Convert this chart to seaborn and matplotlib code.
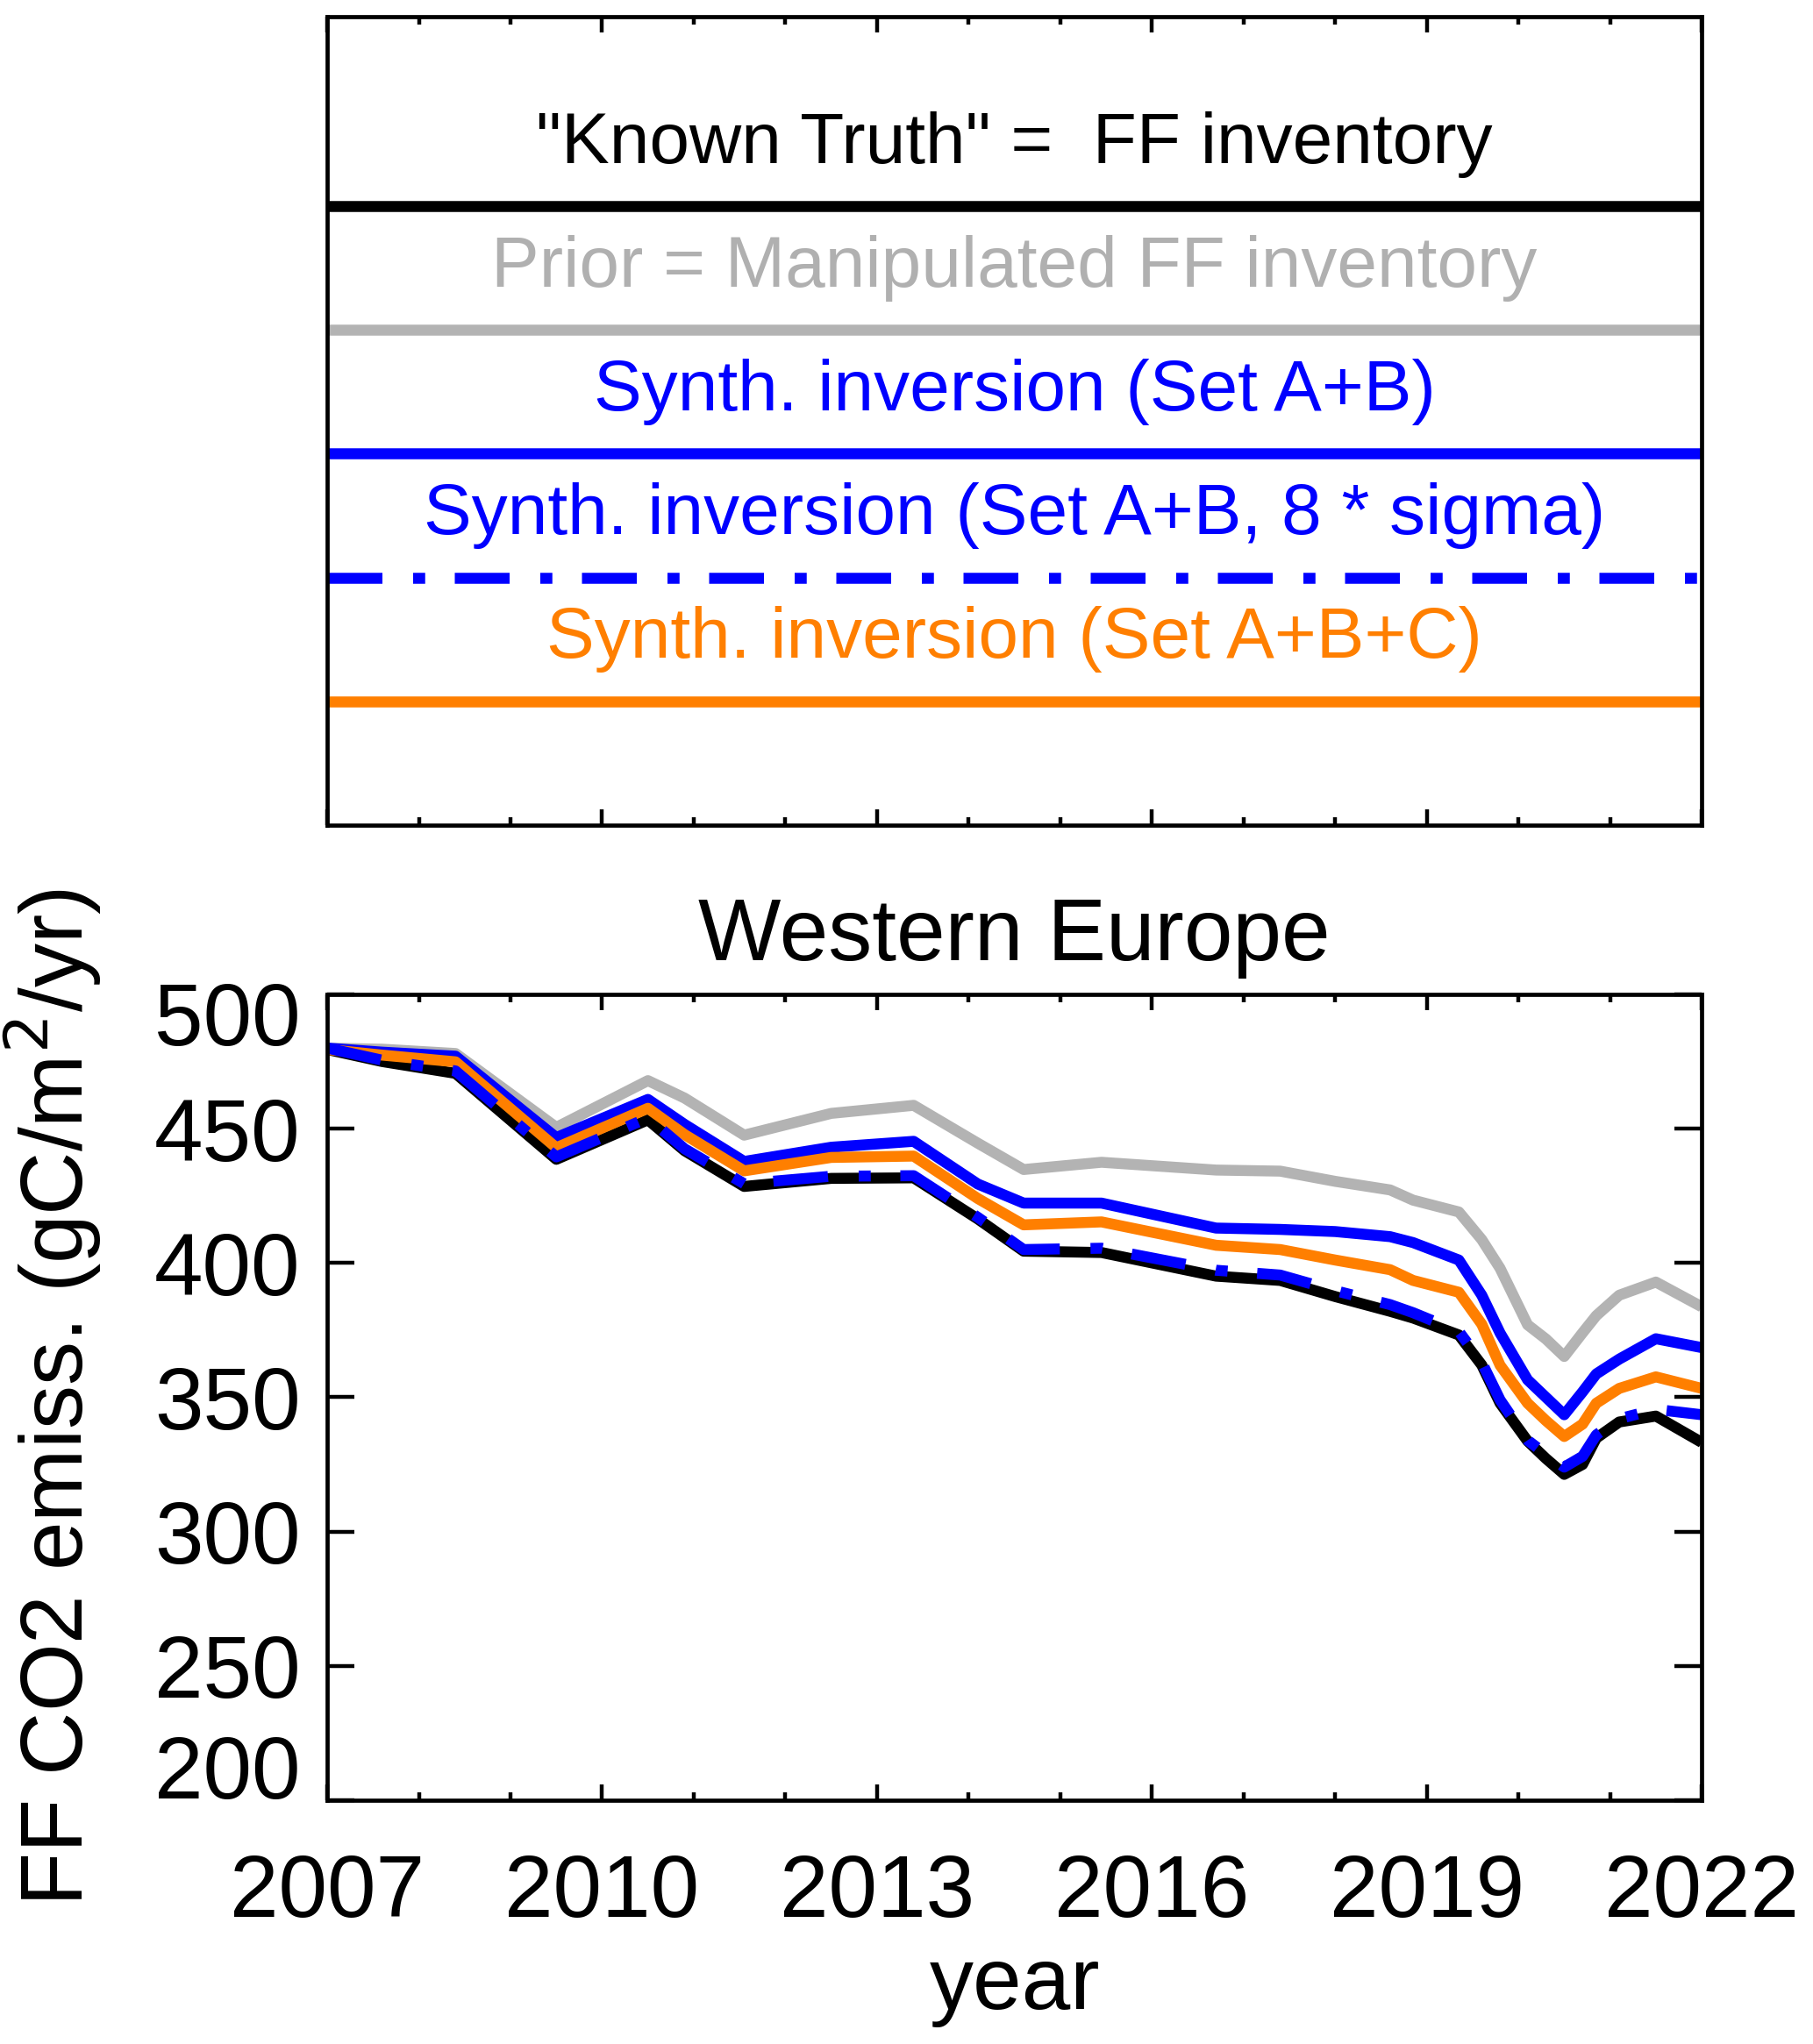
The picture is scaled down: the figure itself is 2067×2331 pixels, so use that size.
import numpy as np
import pandas as pd
import matplotlib
matplotlib.use('Agg')
import matplotlib.pyplot as plt
import matplotlib.transforms as mtransforms
from matplotlib.ticker import MultipleLocator, NullLocator
import seaborn as sns

# values (gC/m2/yr)
years = [2007.0, 2007.6, 2008.4, 2009.5, 2010.5, 2010.9, 2011.55, 2012.5, 2013.4, 2014.1,
         2014.6, 2015.45, 2016.7, 2017.4, 2018.0, 2018.6, 2018.85, 2019.35, 2019.6, 2019.8,
         2020.1, 2020.3, 2020.5, 2020.7, 2020.85, 2021.1, 2021.5, 2022.0]
truth = [479.5, 475.0, 470.6, 438.6, 453.3, 441.8, 428.5, 431.5, 431.7, 416.4,
         404.4, 403.9, 395.1, 393.5, 387.5, 382.0, 379.5, 373.2, 362.0, 347.8,
         333.7, 327.2, 321.3, 325.0, 334.8, 340.8, 343.0, 333.2]
prior = [480.0, 479.6, 478.0, 450.5, 467.9, 461.4, 447.6, 455.7, 458.7, 444.6,
         434.8, 437.5, 434.6, 434.2, 430.4, 427.2, 423.4, 419.0, 408.7, 398.0,
         377.0, 371.7, 365.2, 374.0, 380.4, 388.0, 392.9, 383.7]
inv_ab = [480.0, 478.5, 477.0, 446.7, 460.9, 451.6, 437.8, 443.1, 445.3, 429.4,
          422.3, 422.3, 413.0, 412.5, 411.7, 409.8, 407.6, 401.1, 388.0, 373.9,
          356.5, 350.0, 343.5, 352.0, 358.7, 364.2, 371.8, 368.5]
inv_ab_8sigma = [480.0, 475.5, 471.5, 439.5, 454.0, 442.5, 429.5, 432.3, 432.5, 417.0,
                 405.0, 405.5, 397.3, 395.5, 389.7, 384.5, 381.5, 374.5, 363.0, 349.0,
                 334.0, 328.8, 324.0, 328.0, 336.0, 342.0, 345.5, 343.5]
inv_abc = [479.5, 477.4, 474.9, 442.9, 457.6, 447.8, 434.3, 439.3, 439.8, 424.0,
           414.2, 415.3, 406.6, 405.0, 401.1, 397.5, 393.5, 389.1, 377.2, 361.9,
           347.8, 341.3, 335.4, 340.0, 347.8, 353.3, 357.6, 353.3]

labels = ['"Known Truth" =  FF inventory',
          'Prior = Manipulated FF inventory',
          'Synth. inversion (Set A+B)',
          'Synth. inversion (Set A+B, 8 * sigma)',
          'Synth. inversion (Set A+B+C)']
series = [truth, prior, inv_ab, inv_ab_8sigma, inv_abc]
line_colors = ['black', '#b3b3b3', '#0000ff', '#0000ff', '#ff7f00']
text_colors = ['black', '#b0b0b0', '#0000ff', '#0000ff', '#ff7f00']
dash_dot = (0, (5.0, 2.8, 1.1, 2.7))
styles = ['-', '-', '-', dash_dot, '-']
draw_order = [1, 0, 2, 4, 3]

year_ticks = list(range(2007, 2023, 3))
y_ticks = [200, 250, 300, 350, 400, 450, 500]

sns.set_theme(style='ticks')
plt.rcParams['font.family'] = ['Liberation Sans', 'DejaVu Sans']
plt.rcParams['axes.edgecolor'] = 'black'
plt.rcParams['axes.labelcolor'] = 'black'
plt.rcParams['text.color'] = 'black'
plt.rcParams['xtick.color'] = 'black'
plt.rcParams['ytick.color'] = 'black'

lw = 9.0
fig = plt.figure(figsize=(20.67, 23.31), dpi=100)
ax_leg = fig.add_axes([0.1805, 0.5963, 0.7581, 0.3955])
ax = fig.add_axes([0.1805, 0.1193, 0.7581, 0.3942])

# legend panel
n = len(labels)
trans = mtransforms.blended_transform_factory(ax_leg.transAxes, ax_leg.transData)
for i, lab in enumerate(labels):
    level = n - i
    ax_leg.axhline(level, color=line_colors[i], linewidth=lw, linestyle=styles[i],
                   solid_capstyle='butt')
    ax_leg.text(0.5, level + 0.5, lab, color=text_colors[i], fontsize=59,
                ha='center', va='center', transform=trans)
ax_leg.set_xlim(2007, 2022)
ax_leg.set_ylim(0, n + 1.53)
ax_leg.set_yticks([])
ax_leg.set_xticks(year_ticks)
ax_leg.xaxis.set_minor_locator(MultipleLocator(1))
ax_leg.tick_params(axis='x', which='major', direction='in', length=13, width=3.2,
                   top=True, bottom=True, labelbottom=False)
ax_leg.tick_params(axis='x', which='minor', direction='in', length=6.5, width=3.2,
                   top=True, bottom=True)

# time series panel
for i in draw_order:
    sns.lineplot(x=years, y=series[i], color=line_colors[i], linewidth=lw,
                 linestyle=styles[i], solid_capstyle='butt', solid_joinstyle='round',
                 dash_joinstyle='round', ax=ax)
ax.set_xlim(2007, 2022)
ax.set_ylim(200, 500)
ax.set_xticks(year_ticks)
ax.set_yticks(y_ticks)
ax.xaxis.set_minor_locator(MultipleLocator(1))
ax.yaxis.set_minor_locator(NullLocator())
ax.tick_params(axis='x', which='major', direction='in', length=13, width=3.2,
               top=True, bottom=True, labelsize=72, pad=43)
ax.tick_params(axis='x', which='minor', direction='in', length=6.5, width=3.2,
               top=True, bottom=True)
ax.tick_params(axis='y', which='major', direction='in', length=22, width=3.2,
               left=True, right=True, labelsize=72, pad=22)
# end labels sit inside the axis range, as in the original
yt = ax.yaxis.get_major_ticks()
yt[0].label1.set_va('bottom')
yt[0].label1.set_transform(yt[0].label1.get_transform() +
                           mtransforms.ScaledTranslation(0, -14 / 72, fig.dpi_scale_trans))
yt[-1].label1.set_va('top')
yt[-1].label1.set_transform(yt[-1].label1.get_transform() +
                            mtransforms.ScaledTranslation(0, 10.5 / 72, fig.dpi_scale_trans))

ax.set_title('Western Europe', fontsize=72, pad=28, color='black')
ax.set_xlabel('year', fontsize=72)
ax.set_ylabel('FF CO2 emiss. (gC/m$^2$/yr)', fontsize=72)
ax.xaxis.set_label_coords(0.5, -0.18)
ax.yaxis.set_label_coords(-0.163, 0.5)

for a in (ax, ax_leg):
    for s in a.spines.values():
        s.set_visible(True)
        s.set_linewidth(3.4)
        s.set_color('black')

fig.savefig('out.png', dpi=100, facecolor='white')
